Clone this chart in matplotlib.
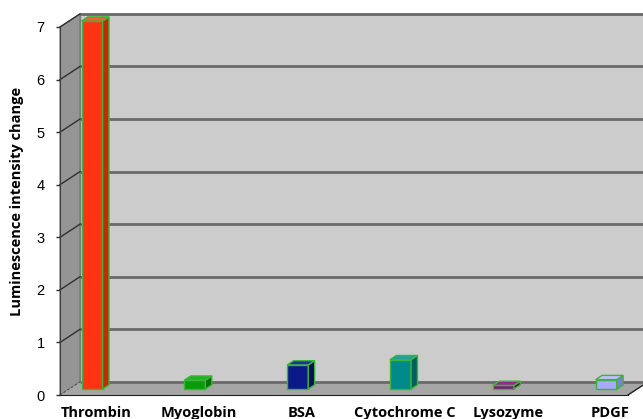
import numpy as np
import matplotlib
matplotlib.use('Agg')
import matplotlib.pyplot as plt
from matplotlib.patches import Polygon

# 단백질별 발광 강도 변화
categories = ['Thrombin', 'Myoglobin', 'BSA', 'Cytochrome C', 'Lysozyme', 'PDGF']
values = [7.0, 0.17, 0.46, 0.56, 0.07, 0.18]
yticks = [0, 1, 2, 3, 4, 5, 6, 7]

face_colors = ['#ff3311', '#0a9a0a', '#0c1a88', '#008a8a', '#7a1a7a', '#a8a8ff']
side_colors = ['#c42a08', '#067006', '#061058', '#005e5e', '#561056', '#8080d0']
top_colors = ['#ff5a30', '#22b022', '#2030a0', '#20a0a0', '#902a90', '#c0c0ff']
edge = '#3cb43c'

W, H = 643, 419
fig = plt.figure(figsize=(W / 100, H / 100), dpi=100)
# 앞면 기준 좌표: 왼쪽 60px, 바닥 395px, 오른쪽 628px, y=7 은 27px
ax = fig.add_axes([60 / W, (H - 395) / H, (628 - 60) / W, (395 - 27) / H])

xl, xr = -0.224, 5.30
ymax = 7
ax.set_xlim(xl, xr)
ax.set_ylim(0, ymax)

# 깊이 방향 오프셋 (데이터 단위)
ddx, ddy = 0.195, 0.25
tb = 0.45   # 막대 앞면 깊이
bd = 0.32   # 막대 두께
bw = 0.205  # 막대 폭

# 벽과 바닥
back = Polygon([(xl + ddx, ddy), (xr + ddx, ddy), (xr + ddx, ymax + ddy), (xl + ddx, ymax + ddy)],
               closed=True, fc='#cccccc', ec='#909090', lw=1.0, clip_on=False, zorder=0)
left = Polygon([(xl, 0), (xl + ddx, ddy), (xl + ddx, ymax + ddy), (xl, ymax)],
               closed=True, fc='#959595', ec='#707070', lw=0.8, clip_on=False, zorder=0.5)
floor = Polygon([(xl, 0), (xr, 0), (xr + ddx, ddy), (xl + ddx, ddy)],
                closed=True, fc='#a6a6a6', ec='none', clip_on=False, zorder=0.5)
for p in (back, left, floor):
    ax.add_patch(p)

# 격자선
for y in yticks:
    ax.plot([xl + ddx, xr + ddx], [y + ddy, y + ddy], color='#6a6a6a', lw=2.0,
            clip_on=False, zorder=1, solid_capstyle='butt')
    if y > 0:
        ax.plot([xl, xl + ddx], [y, y + ddy], color='#303030', lw=1.0, clip_on=False, zorder=1)
ax.plot([xl, xl + ddx], [0, ddy], color='#505050', lw=0.8, ls=(0, (2, 2)), clip_on=False, zorder=1)
ax.plot([xr, xr + ddx], [0, ddy], color='#202020', lw=1.0, clip_on=False, zorder=1)

# 막대 (앞면, 옆면, 윗면)
x = np.arange(len(categories))
x0 = x + tb * ddx - bw / 2
base = tb * ddy
bars = ax.bar(x + tb * ddx, values, width=bw, bottom=base, color=face_colors,
              edgecolor=edge, linewidth=1.0, zorder=3)
for r in bars:
    r.set_clip_on(False)
for i, v in enumerate(values):
    a, b = x0[i], x0[i] + bw
    top = base + v
    side = Polygon([(b, base), (b + bd * ddx, base + bd * ddy), (b + bd * ddx, top + bd * ddy), (b, top)],
                   closed=True, fc=side_colors[i], ec=edge, lw=1.0, zorder=3, clip_on=False)
    cap = Polygon([(a, top), (b, top), (b + bd * ddx, top + bd * ddy), (a + bd * ddx, top + bd * ddy)],
                  closed=True, fc=top_colors[i], ec=edge, lw=1.0, zorder=3, clip_on=False)
    ax.add_patch(side)
    ax.add_patch(cap)

# 축
for s in ['top', 'right']:
    ax.spines[s].set_visible(False)
ax.spines['left'].set_color('#404040')
ax.spines['bottom'].set_color('#202020')
ax.spines['left'].set_zorder(2)
ax.spines['bottom'].set_zorder(2)

ax.set_yticks(yticks)
ax.set_yticklabels([str(t) for t in yticks], fontsize=10.5, family='Liberation Sans')
ax.tick_params(axis='y', length=3, width=1, color='#303030', pad=8)
ax.set_xticks(x + 0.13)
ax.set_xticklabels(categories, fontsize=10.5, fontweight='bold', family='Open Sans')
ax.tick_params(axis='x', length=0, pad=8)

ax.set_ylabel('Luminescence intensity change', fontsize=10.5, fontweight='bold', family='Open Sans')
ax.yaxis.set_label_coords(-0.064, 0.525)

fig.savefig('out.png', dpi=100)
